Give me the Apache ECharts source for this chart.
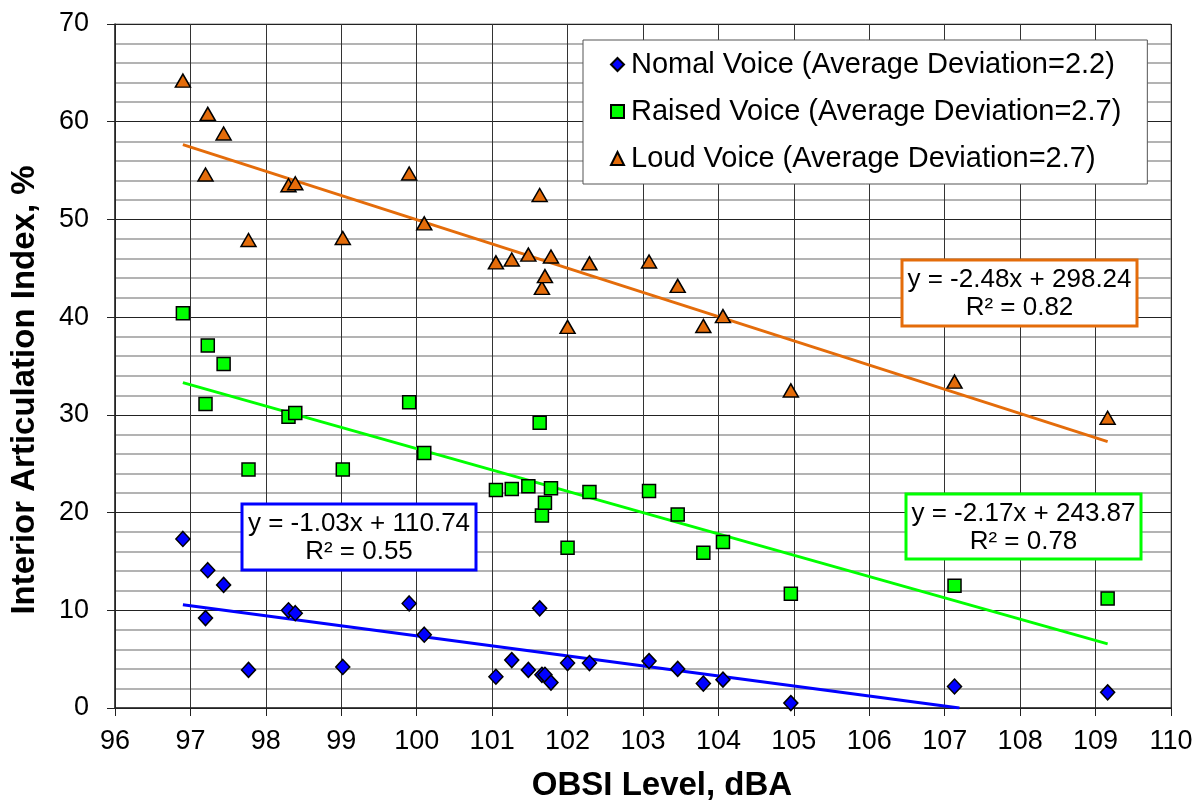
<!DOCTYPE html>
<html><head><meta charset="utf-8">
<script src="https://cdn.jsdelivr.net/npm/echarts@6/dist/echarts.min.js"></script>
<style>html,body{margin:0;padding:0;background:#fff}#c{width:1201px;height:806px}</style>
</head><body><div id="c"></div>
<script>
// ---- data ----
const obsiLevels = [96.90, 97.20, 97.23, 97.44, 97.77, 98.30, 98.39, 99.02, 99.90, 100.10, 101.05, 101.26, 101.48, 101.63, 101.66, 101.70, 101.78, 102.00, 102.29, 103.08, 103.46, 103.80, 104.06, 104.96, 107.13, 109.16];
const normalVoice = [17.3, 9.2, 14.1, 12.6, 3.9, 10.0, 9.7, 4.2, 10.7, 7.5, 3.2, 4.9, 3.9, 10.2, 3.4, 3.4, 2.6, 4.6, 4.6, 4.8, 4.0, 2.5, 2.9, 0.5, 2.2, 1.6];
const raisedVoice = [40.4, 31.1, 37.1, 35.2, 24.4, 29.8, 30.2, 24.4, 31.3, 26.1, 22.3, 22.4, 22.7, 29.2, 19.7, 21.0, 22.5, 16.4, 22.1, 22.2, 19.8, 15.9, 17.0, 11.7, 12.5, 11.2];
const loudVoice   = [64.2, 54.6, 60.8, 58.8, 47.9, 53.5, 53.7, 48.1, 54.7, 49.6, 45.6, 45.9, 46.4, 52.5, 43.0, 44.2, 46.2, 39.0, 45.5, 45.7, 43.2, 39.1, 40.1, 32.5, 33.4, 29.7];
const seriesNames = ['Nomal Voice (Average Deviation=2.2)', 'Raised Voice (Average Deviation=2.7)', 'Loud Voice (Average Deviation=2.7)'];
const equationLines = [
  ['y = -1.03x + 110.74', 'R² = 0.55'],
  ['y = -2.17x + 243.87', 'R² = 0.78'],
  ['y = -2.48x + 298.24', 'R² = 0.82']
];
const xAxisTitle = 'OBSI Level, dBA';
const yAxisTitle = 'Interior Articulation Index, %';

// ---- styling ----
const colors = ['#0000FF', '#00FF00', '#E46C0A'];
const symbols = ['diamond', 'rect', 'triangle'];
const symbolSizes = [[14, 15], 13, [15, 13]];
const FONT = 'Arial, "Liberation Sans", sans-serif';

function fit(xs, ys) {
  const n = xs.length;
  let sx = 0, sy = 0, sxx = 0, sxy = 0;
  for (let i = 0; i < n; i++) { sx += xs[i]; sy += ys[i]; sxx += xs[i] * xs[i]; sxy += xs[i] * ys[i]; }
  const a = (n * sxy - sx * sy) / (n * sxx - sx * sx);
  const b = (sy - a * sx) / n;
  return { a, b };
}
function trend(ys) {
  const { a, b } = fit(obsiLevels, ys);
  const x0 = Math.min(...obsiLevels);
  let x1 = Math.max(...obsiLevels);
  if (a * x1 + b < 0) x1 = -b / a;
  return [[x0, a * x0 + b], [x1, a * x1 + b]];
}

const allY = [normalVoice, raisedVoice, loudVoice];
const series = [];
allY.forEach((ys, i) => {
  series.push({
    type: 'line', data: trend(ys), showSymbol: false, symbol: 'none', silent: true,
    lineStyle: { color: colors[i], width: 3 }, z: 2, animation: false
  });
});
allY.forEach((ys, i) => {
  series.push({
    name: seriesNames[i], type: 'scatter', symbol: symbols[i], symbolSize: symbolSizes[i],
    data: obsiLevels.map((x, k) => [x, ys[k]]),
    itemStyle: { color: colors[i], borderColor: '#000', borderWidth: 1.5, opacity: 1 },
    z: 3 + i, animation: false
  });
});

const boxes = [
  { x: 242, y: 504, w: 234, h: 66 },
  { x: 906, y: 494, w: 235, h: 65 },
  { x: 902, y: 260, w: 235, h: 66 }
];
const graphics = [];
boxes.forEach((bx, i) => {
  graphics.push({ type: 'rect', shape: { x: bx.x, y: bx.y, width: bx.w, height: bx.h },
    style: { fill: '#fff', stroke: colors[i], lineWidth: 3 }, z: 50 });
  graphics.push({ type: 'text', x: bx.x + bx.w / 2, y: bx.y + bx.h * 0.3,
    style: { text: equationLines[i][0], font: '26px ' + FONT, fill: '#000', align: 'center', verticalAlign: 'middle' }, z: 51 });
  graphics.push({ type: 'text', x: bx.x + bx.w / 2, y: bx.y + bx.h * 0.73,
    style: { text: equationLines[i][1], font: '26px ' + FONT, fill: '#000', align: 'center', verticalAlign: 'middle' }, z: 51 });
});
graphics.push({ type: 'text', x: 25, y: 390, rotation: Math.PI / 2,
  style: { text: yAxisTitle, font: 'bold 33px ' + FONT, fill: '#000', align: 'center', verticalAlign: 'middle' } });
graphics.push({ type: 'text', x: 662, y: 786,
  style: { text: xAxisTitle, font: 'bold 33px ' + FONT, fill: '#000', align: 'center', verticalAlign: 'middle' } });

const chart = echarts.init(document.getElementById('c'), null, { renderer: 'canvas' });
chart.setOption({
  animation: false,
  backgroundColor: '#fff',
  grid: { left: 115, right: 30, top: 24, bottom: 98, show: true, borderColor: '#888', borderWidth: 1, backgroundColor: 'transparent' },
  xAxis: {
    type: 'value', min: 96, max: 110, interval: 1,
    axisLine: { show: true, onZero: false, lineStyle: { color: '#222', width: 1.5 } },
    axisTick: { show: true, inside: false, length: 8, lineStyle: { color: '#222' } },
    axisLabel: { color: '#000', fontSize: 27, fontFamily: FONT, margin: 20 },
    splitLine: { show: true, lineStyle: { color: '#333', width: 1 } }
  },
  yAxis: {
    type: 'value', min: 0, max: 70, interval: 10,
    axisLine: { show: true, lineStyle: { color: '#222', width: 1.5 } },
    axisTick: { show: true, inside: false, length: 8, lineStyle: { color: '#222' } },
    axisLabel: { color: '#000', fontSize: 27, fontFamily: FONT, margin: 26 },
    splitLine: { show: true, lineStyle: { color: '#222', width: 1 } },
    minorTick: { show: false, splitNumber: 5 },
    minorSplitLine: { show: true, lineStyle: { color: '#9a9a9a', width: 1.5 } }
  },
  legend: {
    data: seriesNames.map((n, i) => ({ name: n, icon: symbols[i] })),
    orient: 'vertical', left: 583, top: 40,
    padding: [9, 26, 10, 27],
    itemGap: 16, itemWidth: 13, itemHeight: 13,
    backgroundColor: '#fff', borderColor: '#555', borderWidth: 1,
    textStyle: { color: '#000', fontSize: 29, fontFamily: FONT, lineHeight: 31, padding: [0, 0, 0, 2] },
    selectedMode: false
  },
  graphic: graphics,
  series: series
});
</script>
</body></html>
